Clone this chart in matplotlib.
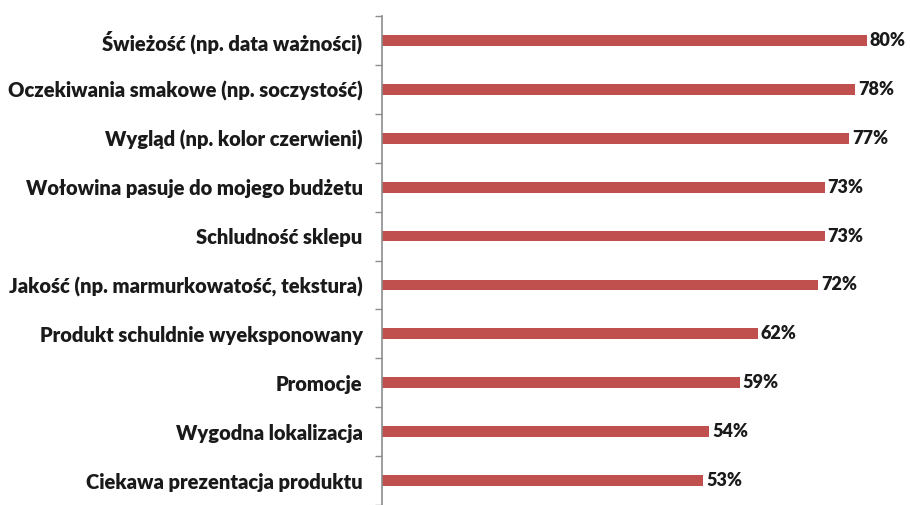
import numpy as np
import matplotlib
matplotlib.use('Agg')
import matplotlib.pyplot as plt

categories = [
    'Świeżość (np. data ważności)',
    'Oczekiwania smakowe (np. soczystość)',
    'Wygląd (np. kolor czerwieni)',
    'Wołowina pasuje do mojego budżetu',
    'Schludność sklepu',
    'Jakość (np. marmurkowatość, tekstura)',
    'Produkt schuldnie wyeksponowany',
    'Promocje',
    'Wygodna lokalizacja',
    'Ciekawa prezentacja produktu',
]
values = [80, 78, 77, 73, 73, 72, 62, 59, 54, 53]

plt.rcParams['font.family'] = ['Lato', 'DejaVu Sans']

fig = plt.figure(figsize=(9.10, 5.05), dpi=100)
ax = fig.add_axes([382 / 910, 0.0, 528 / 910, 1 - 16 / 505])

y = np.arange(len(categories))
ax.barh(y, values, height=0.22, color='#C0504D', zorder=2)

for yi, v in zip(y, values):
    ax.text(v + 0.5, yi, f'{v}%', va='center', ha='left',
            fontsize=13, fontweight='heavy', color='#1a1a1a')

ax.set_ylim(len(categories) - 0.5, -0.5)
ax.set_xlim(0, 87.1)
ax.set_yticks(y)
ax.set_yticklabels(categories, fontsize=14.5, fontweight='heavy', color='#1a1a1a')
ax.tick_params(axis='y', which='major', length=0, pad=14)
ax.set_yticks(np.arange(-0.5, len(categories), 1), minor=True)
ax.tick_params(axis='y', which='minor', length=5, width=1, color='#8c8c8c')
ax.set_xticks([])

for side in ['top', 'right', 'bottom']:
    ax.spines[side].set_visible(False)
ax.spines['left'].set_color('#8c8c8c')
ax.spines['left'].set_linewidth(1.2)

fig.savefig('out.png', dpi=100)
